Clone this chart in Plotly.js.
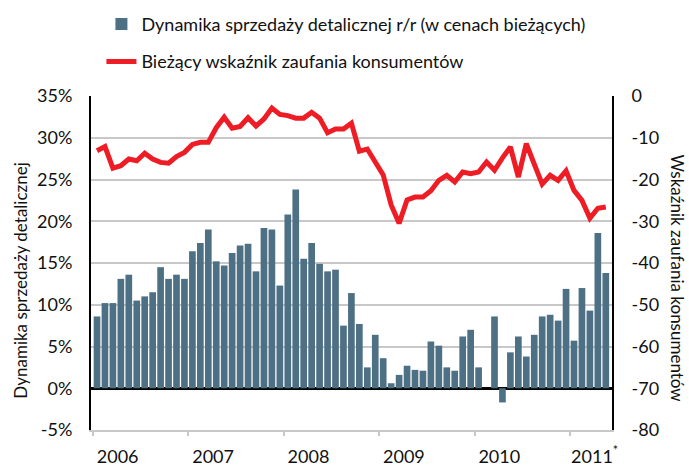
<!DOCTYPE html>
<html><head><meta charset="utf-8">
<script src="https://cdn.plot.ly/plotly-3.0.1.min.js"></script>
<style>html,body{margin:0;padding:0;background:#fff}#chart{width:689px;height:468px}</style>
</head><body><div id="chart"></div>
<script>
// Monthly data, 2006-01 .. 2011-05
const months = [
  "2006-01","2006-02","2006-03","2006-04","2006-05","2006-06","2006-07","2006-08","2006-09","2006-10","2006-11","2006-12",
  "2007-01","2007-02","2007-03","2007-04","2007-05","2007-06","2007-07","2007-08","2007-09","2007-10","2007-11","2007-12",
  "2008-01","2008-02","2008-03","2008-04","2008-05","2008-06","2008-07","2008-08","2008-09","2008-10","2008-11","2008-12",
  "2009-01","2009-02","2009-03","2009-04","2009-05","2009-06","2009-07","2009-08","2009-09","2009-10","2009-11","2009-12",
  "2010-01","2010-02","2010-03","2010-04","2010-05","2010-06","2010-07","2010-08","2010-09","2010-10","2010-11","2010-12",
  "2011-01","2011-02","2011-03","2011-04","2011-05"
];
const retailSales = [
  8.6,10.2,10.2,13.1,13.6,10.5,11.0,11.5,14.5,13.1,13.6,13.1,
  16.4,17.4,19.0,15.2,14.7,16.2,17.1,17.3,14.0,19.2,19.0,12.3,
  20.8,23.8,15.5,17.4,14.9,14.0,14.2,7.5,11.4,7.7,2.5,6.4,
  3.6,0.6,1.6,2.7,2.2,2.1,5.6,5.1,2.5,2.1,6.2,7.0,
  2.5,0.0,8.6,-1.7,4.3,6.2,3.8,6.4,8.6,8.8,8.1,11.9,
  5.7,12.0,9.3,18.6,13.8
];
const confidence = [
  -13.1,-12.1,-17.3,-16.7,-15.1,-15.5,-13.7,-15.1,-15.9,-16.1,-14.5,-13.5,
  -11.6,-11.1,-11.1,-7.6,-5.1,-7.7,-7.3,-5.2,-7.2,-5.5,-2.9,-4.4,
  -4.7,-5.3,-5.3,-3.9,-5.3,-8.8,-7.9,-7.9,-6.5,-13.2,-12.7,-15.7,
  -18.9,-26.1,-30.5,-24.9,-24.2,-24.2,-22.7,-20.2,-19.0,-20.6,-18.2,-18.6,
  -18.2,-15.8,-17.8,-14.8,-12.2,-19.4,-11.4,-16.3,-21.1,-19.0,-20.2,-17.9,
  -22.6,-25.0,-29.3,-26.9,-26.6
];
const seriesNames = [
  "Dynamika sprzedaży detalicznej r/r (w cenach bieżących)",
  "Bieżący wskaźnik zaufania konsumentów"
];
const yearLabels = ["2006","2007","2008","2009","2010","2011<sup>*</sup>"];
const leftTickVals = [-5,0,5,10,15,20,25,30,35];
const leftTickLabels = ["-5%","0%","5%","10%","15%","20%","25%","30%","35%"];
const rightTickVals = [-80,-70,-60,-50,-40,-30,-20,-10,0];
const rightTickLabels = ["-80","-70","-60","-50","-40","-30","-20","-10","0"];
const leftTitle = "Dynamika sprzedaży detalicznej";
const rightTitle = "Wskaźnik zaufania konsumentów";

const xIdx = months.map((_, i) => i);
const yearStartIdx = yearLabels.map((_, k) => months.indexOf((2006 + k) + "-01"));

const FONT = "Lato, 'Open Sans', 'DejaVu Sans', sans-serif";

const traces = [
  {
    type: "bar", name: seriesNames[0], x: xIdx, y: retailSales,
    marker: {color: "#4e7084", line: {width: 0}},
    xaxis: "x", yaxis: "y", legendgroup: "a",
    hovertext: months
  },
  {
    type: "scatter", mode: "lines", name: seriesNames[1], x: xIdx, y: confidence,
    line: {color: "#ee1c25", width: 5},
    xaxis: "x", yaxis: "y2", legendgroup: "b",
    hovertext: months
  }
];

const layout = {
  width: 689, height: 468,
  margin: {l: 91, r: 77, t: 96, b: 38, pad: 0, autoexpand: false},
  paper_bgcolor: "#ffffff", plot_bgcolor: "#ffffff",
  font: {family: FONT, size: 18, color: "#111111"},
  bargap: 0.16,
  showlegend: true,
  legend: {
    x: 0.02, y: 1.27, xanchor: "left", yanchor: "top",
    orientation: "v", tracegroupgap: 11,
    font: {family: FONT, size: 18, color: "#111111"},
    bgcolor: "rgba(0,0,0,0)", itemwidth: 30
  },
  xaxis: {
    range: [-0.755, 64.78],
    tickmode: "array",
    tickvals: yearStartIdx.map(v => v + 2.6),
    ticktext: yearLabels,
    ticks: "", showgrid: false, zeroline: false,
    showline: true, linecolor: "#c8c8c8", linewidth: 2,
    ticklabelstandoff: 9,
    tickfont: {family: FONT, size: 18, color: "#111111"},
    minor: {tickmode: "array", tickvals: yearStartIdx.map(v => v - 0.5), ticks: "outside", ticklen: 4, tickcolor: "#c8c8c8", tickwidth: 2, showgrid: false},
    fixedrange: true
  },
  yaxis: {
    range: [-5, 35],
    tickmode: "array", tickvals: leftTickVals, ticktext: leftTickLabels,
    ticks: "", ticklabelstandoff: 13,
    showgrid: true, gridcolor: "#c8c8c8", gridwidth: 2,
    zeroline: true, zerolinecolor: "#000000", zerolinewidth: 2.5,
    showline: true, linecolor: "#000000", linewidth: 2,
    tickfont: {family: FONT, size: 18, color: "#111111"}
  },
  yaxis2: {
    range: [-80, 0], overlaying: "y", side: "right",
    tickmode: "array", tickvals: rightTickVals, ticktext: rightTickLabels,
    ticks: "", ticklabelstandoff: 14,
    showgrid: false, zeroline: false,
    showline: true, linecolor: "#000000", linewidth: 2,
    tickfont: {family: FONT, size: 18, color: "#111111"}
  },
  annotations: [
    {text: leftTitle, xref: "paper", yref: "paper", x: -0.137, y: 0.446,
     xanchor: "center", yanchor: "middle", textangle: -90, showarrow: false,
     font: {family: FONT, size: 17, color: "#111111"}},
    {text: rightTitle, xref: "paper", yref: "paper", x: 1.1275, y: 0.452,
     xanchor: "center", yanchor: "middle", textangle: 90, showarrow: false,
     font: {family: FONT, size: 17, color: "#111111"}}
  ]
};

Plotly.newPlot("chart", traces, layout, {displayModeBar: false, staticPlot: true});
</script>
</body></html>
